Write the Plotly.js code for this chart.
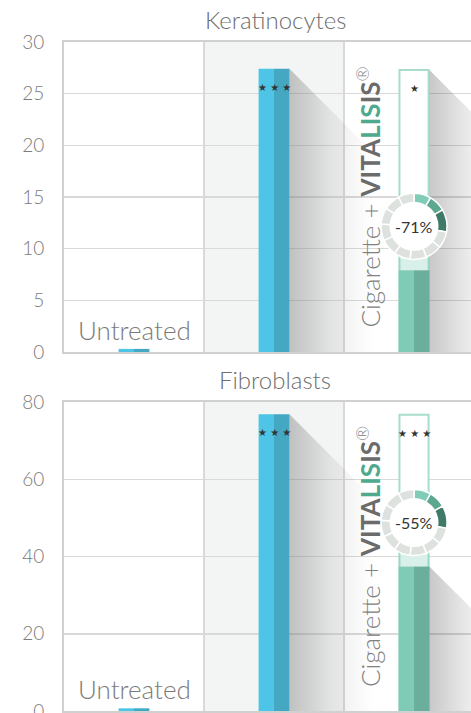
<!DOCTYPE html>
<html>
<head>
<meta charset="utf-8">
<script src="https://cdn.plot.ly/plotly-3.0.1.min.js"></script>
<style>html,body{margin:0;padding:0;background:#fff;}#chart{width:471px;height:713px;}</style>
</head>
<body>
<div id="chart"></div>
<script>
// ---------- data ----------
const categories = ['Untreated', 'Cigarette', 'Cigarette + VITALISIS®'];
const panelTitles = ['Keratinocytes', 'Fibroblasts'];
const keratinocytes = [0.3, 27.4, 27.3];      // bar heights (third = reference outline)
const keratinocytesTreated = 7.9;              // VITALISIS filled level
const fibroblasts = [0.7, 76.8, 76.7];
const fibroblastsTreated = 37.4;
const reductions = ['-71%', '-55%'];
const starsKeratinocytes = ['★ ★ ★', '★'];
const starsFibroblasts = ['★ ★ ★', '★ ★ ★'];
const yMax = [30, 80];
const yTickStep = [5, 20];
const ringSegments = [30, 30, 40, 29, 29, 29, 29, 29, 29, 29, 29, 28];
const ringColors = ['#80ccb6', '#5ba78f', '#3f7a69', '#dde2de', '#dde2de', '#dde2de', '#dde2de', '#dde2de', '#dde2de', '#dde2de', '#dde2de', '#dde2de'];

// ---------- geometry ----------
const W = 471, H = 713, ML = 64;
const xRange = [-0.5, 2.407];
const domains = [[(H - 352) / H, (H - 42) / H], [(H - 711) / H, (H - 402) / H]];
const plotW = W - ML;
const kx = plotW / (xRange[1] - xRange[0]);          // px per category unit
const blueL = '#4ec5e6', blueR = '#45a8c3';
const greenL = '#80cbb5', greenR = '#6bae9c';
const FONT = 'Lato, "Open Sans", sans-serif';

const values = [keratinocytes, fibroblasts];
const treated = [keratinocytesTreated, fibroblastsTreated];
const stars = [starsKeratinocytes, starsFibroblasts];

const traces = [];
const annotations = [];
const shapes = [];
const layout = {
  width: W, height: H,
  margin: {l: ML, r: 0, t: 0, b: 0},
  paper_bgcolor: '#fff', plot_bgcolor: '#fff',
  barmode: 'overlay', showlegend: false,
  font: {family: FONT, color: '#6b6b6b'},
};

const half = 0.11;
const ringOffsetPx = 44, ringR = 33, innerR = 24.5;

for (let p = 0; p < 2; p++) {
  const xa = p === 0 ? 'x' : 'x2', ya = p === 0 ? 'y' : 'y2';
  const xaKey = p === 0 ? 'xaxis' : 'xaxis2', yaKey = p === 0 ? 'yaxis' : 'yaxis2';
  const dom = domains[p];
  const plotH = (dom[1] - dom[0]) * H;
  const ky = plotH / yMax[p];                    // px per y unit
  const v = values[p], t = treated[p];

  layout[xaKey] = {
    domain: [0, 1], range: xRange, anchor: ya,
    tickvals: [0.5, 1.5, 2.5], showticklabels: false, ticks: '',
    showgrid: true, gridcolor: '#d9d9d9', gridwidth: 1.5,
    showline: true, mirror: true, linecolor: '#d0d0d0', linewidth: 2,
    zeroline: false, fixedrange: true,
  };
  const tv = [];
  for (let k = 0; k <= yMax[p]; k += yTickStep[p]) tv.push(k);
  layout[yaKey] = {
    domain: dom, range: [0, yMax[p]], anchor: xa,
    tickvals: tv, ticktext: tv.map(String), ticks: '',
    ticklabelstandoff: 14, ticklabeloverflow: 'allow',
    tickfont: {size: 19, color: '#7c7c7c', family: FONT, weight: 300},
    showgrid: true, gridcolor: '#d9d9d9', gridwidth: 1.5,
    showline: true, linecolor: '#d0d0d0', linewidth: 2,
    zeroline: false, fixedrange: true,
  };

  // middle column background
  shapes.push({type: 'rect', xref: xa, yref: ya + ' domain', x0: 0.5, x1: 1.5, y0: 0, y1: 1,
    fillcolor: '#f3f4f4', line: {width: 0}, layer: 'below'});

  // long shadows (45 degrees in pixel space)
  const shadowFrom = [[1, v[1]], [2, p === 0 ? v[2] : t]];
  shadowFrom.forEach(([cx, top]) => {
    const xr = cx + half;
    const dx = top * ky / kx;
    traces.push({type: 'scatter', xaxis: xa, yaxis: ya, mode: 'none',
      x: [xr, xr + dx, xr, xr], y: [top, 0, 0, top], fill: 'toself',
      fillgradient: {type: 'horizontal', start: xr, stop: xr + 0.6,
        colorscale: [[0, 'rgba(60,60,60,0.28)'], [0.5, 'rgba(60,60,60,0.09)'], [1, 'rgba(60,60,60,0)']]},
      hoverinfo: 'skip'});
  });

  // untreated + cigarette bars (two-tone)
  traces.push({type: 'bar', xaxis: xa, yaxis: ya, x: [0, 1], y: [v[0], v[1]], width: half, offset: -half,
    marker: {color: blueL, line: {width: 0}}, hoverinfo: 'skip'});
  traces.push({type: 'bar', xaxis: xa, yaxis: ya, x: [0, 1], y: [v[0], v[1]], width: half, offset: 0,
    marker: {color: blueR, line: {width: 0}}, hoverinfo: 'skip'});
  // VITALISIS outline reference bar
  traces.push({type: 'bar', xaxis: xa, yaxis: ya, x: [2], y: [v[2]], width: 2 * half - 0.012, offset: -half + 0.006,
    marker: {color: '#ffffff', line: {width: 2, color: '#a8dccb'}}, hoverinfo: 'skip'});
  // VITALISIS filled level
  traces.push({type: 'bar', xaxis: xa, yaxis: ya, x: [2], y: [t], width: half, offset: -half,
    marker: {color: greenL, line: {width: 0}}, hoverinfo: 'skip'});
  traces.push({type: 'bar', xaxis: xa, yaxis: ya, x: [2], y: [t], width: half, offset: 0,
    marker: {color: greenR, line: {width: 0}}, hoverinfo: 'skip'});
  // soft fade above fill
  traces.push({type: 'bar', xaxis: xa, yaxis: ya, x: [2], y: [12 / ky], base: [t], width: 2 * half, offset: -half,
    marker: {color: 'rgba(128,203,181,0.3)', line: {width: 0}}, hoverinfo: 'skip'});

  // ring (pie) positioned over the VITALISIS bar
  const cxFrac = (2 - xRange[0]) / (xRange[1] - xRange[0]);
  const cyFrac = dom[0] + (t / yMax[p]) * (dom[1] - dom[0]) + ringOffsetPx / H;
  traces.push({type: 'pie', values: ringSegments, sort: false, direction: 'clockwise', rotation: 0,
    hole: 0.5, textinfo: 'none', hoverinfo: 'skip',
    marker: {colors: ringColors, line: {color: '#ffffff', width: 1.5}},
    domain: {x: [cxFrac - ringR / plotW, cxFrac + ringR / plotW], y: [cyFrac - ringR / H, cyFrac + ringR / H]}});
  traces.push({type: 'pie', values: [1], sort: false, textinfo: 'none', hoverinfo: 'skip',
    marker: {colors: ['#ffffff'], line: {width: 0}},
    domain: {x: [cxFrac - innerR / plotW, cxFrac + innerR / plotW], y: [cyFrac - innerR / H, cyFrac + innerR / H]}});

  annotations.push({xref: xa, yref: ya, x: 2, y: t, yshift: ringOffsetPx, text: reductions[p],
    showarrow: false, font: {size: 16, color: '#333333', family: FONT}, xanchor: 'center', yanchor: 'middle'});

  // titles
  annotations.push({xref: xa, yref: ya + ' domain', x: 1.01, y: 1, yanchor: 'bottom', yshift: 6,
    text: panelTitles[p], showarrow: false, font: {size: 24, color: '#6e6e6e', family: FONT, weight: 300}});
  // category labels
  annotations.push({xref: xa, yref: ya, x: 0, y: 0, yanchor: 'bottom', yshift: 4,
    text: categories[0], showarrow: false, font: {size: 26, color: '#7a7a7a', family: FONT, weight: 300}});
  annotations.push({xref: xa, yref: ya + ' domain', x: 1.5, y: 0.5, xanchor: 'left', yanchor: 'middle', xshift: 5,
    textangle: -90, showarrow: false,
    text: 'Cigarette + <b><span style="color:#6b6b6b">VITA</span><span style="color:#4ea98d">LIS</span><span style="color:#6b6b6b">IS</span></b><sup>®</sup>',
    font: {size: 26, color: '#808080', family: FONT, weight: 300}});

  // significance stars
  annotations.push({xref: xa, yref: ya, x: 1, y: v[1], yanchor: 'top', yshift: -11, text: stars[p][0],
    showarrow: false, font: {size: 10, color: '#333333', family: 'DejaVu Sans'}});
  annotations.push({xref: xa, yref: ya, x: 2, y: v[2], yanchor: 'top', yshift: -11, text: stars[p][1],
    showarrow: false, font: {size: 10, color: '#333333', family: 'DejaVu Sans'}});
}

layout.shapes = shapes;
layout.annotations = annotations;
Plotly.newPlot('chart', traces, layout, {displayModeBar: false, staticPlot: true});
</script>
</body>
</html>
